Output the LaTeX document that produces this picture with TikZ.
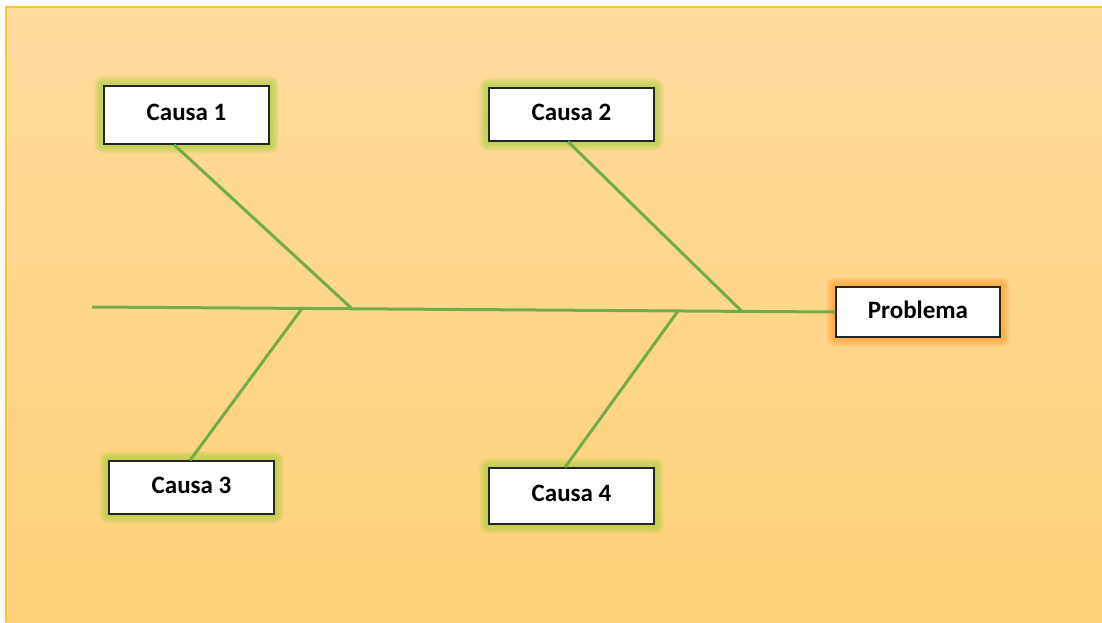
\documentclass[tikz,border=0pt]{standalone}
\usepackage{fontspec}
\setmainfont{Carlito}
\usetikzlibrary{calc}
\pgfdeclarelayer{panel}
\pgfdeclarelayer{glow}
\pgfsetlayers{panel,glow,main}
\definecolor{bone}{HTML}{70AD47}
\definecolor{frameline}{HTML}{FFC52A}
\definecolor{bgtop}{HTML}{FFDB9C}
\definecolor{bgbot}{HTML}{FFD279}
\definecolor{greenglow}{HTML}{A6CF3C}
\definecolor{orangeglow}{HTML}{FF9A2E}
\tikzset{
  cause/.style={draw=black!85, line width=1.3pt, fill=white, minimum width=165pt,
    minimum height=56pt, inner sep=0pt, text depth=5pt,
    font=\fontsize{25}{29}\selectfont\bfseries},
  bonepath/.style={draw=bone, line width=3pt},
}
% soft halo around a box
\newcommand{\halo}[2]{%
  \begin{pgfonlayer}{glow}
    \foreach \g in {9,7.5,6,4.5,3,1.5}{
      \fill[#2, opacity=0.17, rounded corners=\g pt]
        ($(#1.south west)+(-\g,\g)$) rectangle ($(#1.north east)+(\g,-\g)$);
    }
  \end{pgfonlayer}}
\begin{document}
\begin{tikzpicture}[x=1pt, y=-1pt]
  \useasboundingbox (0,0) rectangle (1102,622);
  % background panel
  \begin{pgfonlayer}{panel}
    \shade[top color=bgtop, bottom color=bgbot] (5,6) rectangle (1102,622);
    \draw[frameline, line width=2pt] (6,622) -- (6,7) -- (1102,7);
  \end{pgfonlayer}

  % boxes
  \node[cause, minimum height=58pt] (c1) at (186.5,115) {Causa 1};
  \node[cause, minimum height=53pt] (c2) at (571.5,114.5) {Causa 2};
  \node[cause, minimum height=53pt] (c3) at (191.5,487.5) {Causa 3};
  \node[cause, minimum height=56pt] (c4) at (571.5,496) {Causa 4};
  \node[cause, minimum width=164pt, minimum height=50pt] (pb) at (918,312) {Problema};

  \halo{c1}{greenglow}
  \halo{c2}{greenglow}
  \halo{c3}{greenglow}
  \halo{c4}{greenglow}
  \halo{pb}{orangeglow}

  % spine and junction points
  \coordinate (tail) at (92,307);
  \coordinate (j3) at (302,308.5);
  \coordinate (j1) at (352,308.7);
  \coordinate (j4) at (678,311);
  \coordinate (j2) at (742,311.5);
  \draw[bonepath] (tail) -- (pb.west);

  % ribs
  \draw[bonepath] ([xshift=-12.5pt]c1.south) -- (j1);
  \draw[bonepath] ([xshift=-3.5pt]c2.south) -- (j2);
  \draw[bonepath] ([xshift=-1.5pt]c3.north) -- (j3);
  \draw[bonepath] ([xshift=-6.5pt]c4.north) -- (j4);
\end{tikzpicture}
\end{document}
